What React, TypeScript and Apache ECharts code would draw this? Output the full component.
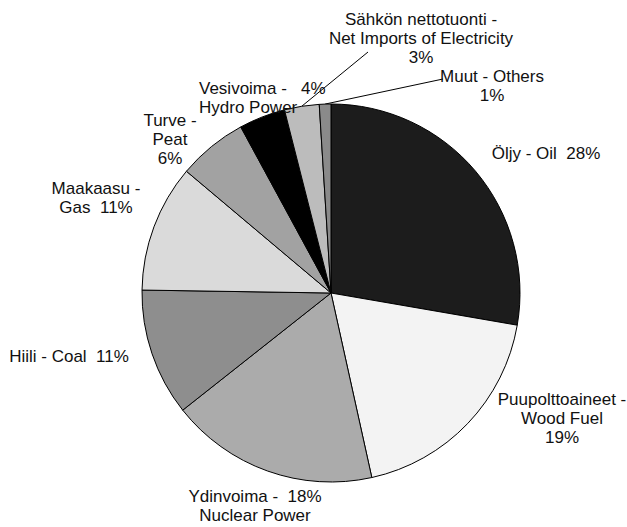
import React, { useEffect, useRef } from "react";
import * as echarts from "echarts";

const categories = [
  "Öljy - Oil",
  "Puupolttoaineet - Wood Fuel",
  "Ydinvoima - Nuclear Power",
  "Hiili - Coal",
  "Maakaasu - Gas",
  "Turve - Peat",
  "Vesivoima - Hydro Power",
  "Sähkön nettotuonti - Net Imports of Electricity",
  "Muut - Others",
];
const shares = [28, 19, 18, 11, 11, 6, 4, 3, 1];
const labelTemplates = [
  "Öljy - Oil  {v}%",
  "Puupolttoaineet -\nWood Fuel\n{v}%",
  "Ydinvoima -  {v}%\nNuclear Power",
  "Hiili - Coal  {v}%",
  "Maakaasu -\nGas  {v}%",
  "Turve -\nPeat\n{v}%",
  "Vesivoima -   {v}%\nHydro Power",
  "Sähkön nettotuonti -\nNet Imports of Electricity\n{v}%",
  "Muut - Others\n{v}%",
];

const fills = ["#1c1c1c", "#f3f3f3", "#ababab", "#8e8e8e", "#dadada", "#a2a2a2", "#000000", "#bcbcbc", "#8a8a8a"];
const withLine = [false, false, false, false, false, false, false, true, true];
// label anchor positions (layout only)
const labelPos: { x: number; y: number; align: string }[] = [
  { x: 546, y: 153, align: "center" },
  { x: 562, y: 418, align: "center" },
  { x: 255, y: 506, align: "center" },
  { x: 69, y: 356, align: "center" },
  { x: 96, y: 198, align: "center" },
  { x: 170, y: 139, align: "center" },
  { x: 199, y: 98, align: "left" },
  { x: 421, y: 38, align: "center" },
  { x: 492, y: 86, align: "center" },
];
const lineEnds: (number[] | null)[] = [null, null, null, null, null, null, null, [368, 52], [443, 79]];

export default function App() {
  const ref = useRef<HTMLDivElement>(null);
  useEffect(() => {
    if (!ref.current) return;
    const chart = echarts.init(ref.current, undefined, { renderer: "svg" });
    chart.setOption({
      animation: false,
      backgroundColor: "#ffffff",
      series: [
        {
          type: "pie",
          center: [331, 293],
          radius: 189,
          startAngle: 90,
          clockwise: true,
          avoidLabelOverlap: false,
          itemStyle: { borderColor: "#000", borderWidth: 1 },
          label: {
            show: true,
            position: "outside",
            color: "#111",
            fontFamily: "Liberation Sans, Arial, sans-serif",
            fontSize: 17,
            lineHeight: 19,
          },
          labelLine: { show: false, lineStyle: { color: "#000", width: 1 }, length: 10, length2: 10 },
          labelLayout: (params: any) => {
            const i = params.dataIndex;
            const p = labelPos[i];
            const out: any = { x: p.x, y: p.y, align: p.align, verticalAlign: "middle" };
            const end = lineEnds[i];
            if (end && params.labelLinePoints && params.labelLinePoints[0]) {
              out.labelLinePoints = [params.labelLinePoints[0], end, end];
            }
            return out;
          },
          data: categories.map((name, i) => ({
            name,
            value: shares[i],
            itemStyle: { color: fills[i] },
            label: {
              formatter: labelTemplates[i].replace("{v}", String(shares[i])),
              align: labelPos[i].align,
            },
            labelLine: { show: withLine[i] },
          })),
        },
      ],
    });
    return () => chart.dispose();
  }, []);
  return (
    <div
      ref={ref}
      style={{ position: "fixed", left: 0, top: 0, width: 627, height: 527 }}
    />
  );
}
